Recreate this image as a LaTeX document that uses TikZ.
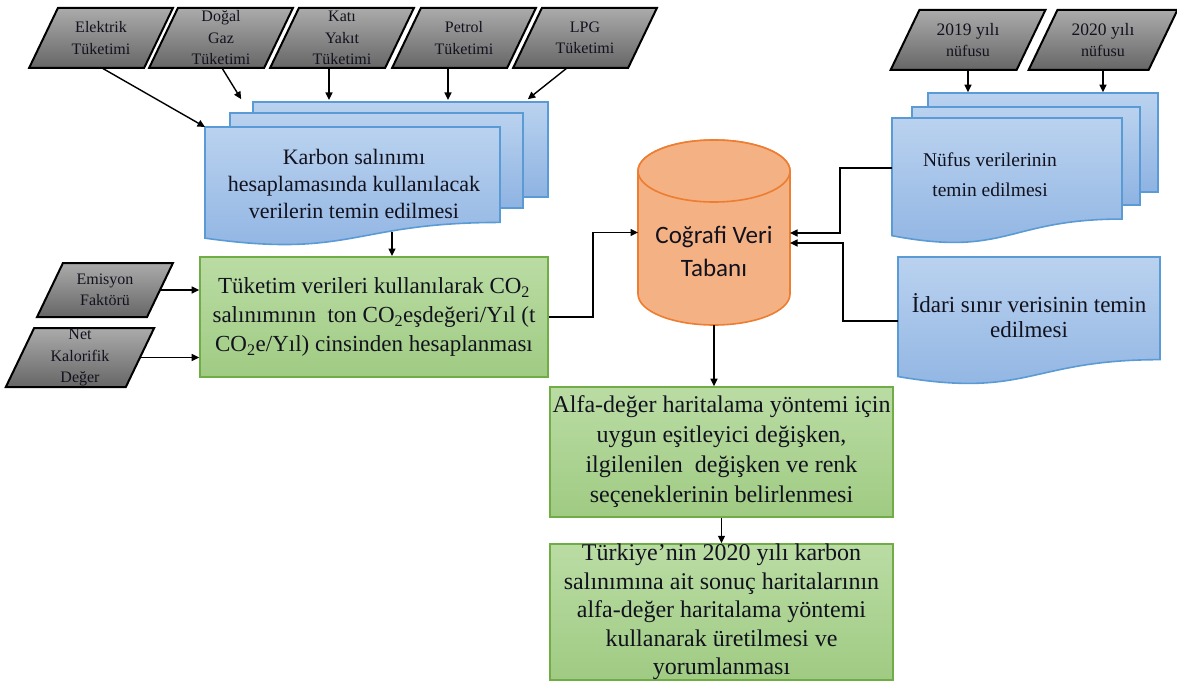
\documentclass[tikz,border=0pt]{standalone}
\usepackage{fontspec}
\setmainfont{Liberation Serif}
\newfontfamily\calib{Carlito}
\usetikzlibrary{arrows.meta,calc}
\definecolor{bluefillA}{HTML}{BAD2EF}
\definecolor{bluefillB}{HTML}{8EB3E2}
\definecolor{blueline}{HTML}{5B9BD5}
\definecolor{greenA}{HTML}{BADCA4}
\definecolor{greenB}{HTML}{A0CB83}
\definecolor{greenline}{HTML}{70AD47}
\definecolor{orfill}{HTML}{F4B183}
\definecolor{orline}{HTML}{ED7D31}
\definecolor{grayA}{HTML}{ABABAB}
\definecolor{grayB}{HTML}{666666}
\definecolor{txt}{HTML}{12121E}
\newcommand\gpara[6]{% name, cx, cy, half width, half height, text
  \path[pshape] ({#2-#4+0.48*#5},{#3-#5}) -- ({#2+#4+0.48*#5},{#3-#5}) -- ({#2+#4-0.48*#5},{#3+#5}) -- ({#2-#4-0.48*#5},{#3+#5}) -- cycle;
  \node[ghost, minimum width={2*#4}, minimum height={2*#5}] (#1) at (#2,#3) {};
  \node[ptext] (#1t) at (#2,#3) {#6};}
\newcommand\docshape[5]{% style, x1, y1, x2, h
  \path[#1] (#2,#3) -- (#4,#3) -- (#4,{#3+0.802*#5}) .. controls ({(#2+#4)/2},{#3+0.802*#5}) and ({(#2+#4)/2},{#3+1.108*#5}) .. (#2,{#3+0.934*#5}) -- cycle;}
\begin{document}
\begin{tikzpicture}[x=1pt,y=-1pt,
  arr/.style={-{Triangle[length=7.5pt,width=7pt]}, line width=1.4pt, black},
  pshape/.style={draw=black, line width=2pt, top color=grayA, bottom color=grayB},
  ghost/.style={inner sep=0, outer sep=0, draw=none},
  ptext/.style={inner sep=0, align=center, text=txt, font=\fontsize{16}{21.5}\selectfont},
  bluedoc/.style={draw=blueline, line width=1.6pt, top color=bluefillA, bottom color=bluefillB},
  doctext/.style={ghost, align=center, text=txt},
  greenbox/.style={draw=greenline, line width=1.6pt, top color=greenA, bottom color=greenB, align=center, text=txt, inner sep=0},
  cyl/.style={draw=orline, line width=1.6pt, fill=orfill},
]
\useasboundingbox (0,0) rectangle (1177,682);

% top input parallelograms
\gpara{elek}{101}{38}{57.5}{30}{Elektrik\\Tüketimi}
\gpara{dogal}{221}{38}{57.5}{30}{Doğal\\Gaz\\Tüketimi}
\gpara{kati}{342}{38}{57.5}{30}{Katı\\Yakıt\\Tüketimi}
\gpara{petrol}{464}{38}{57.5}{30}{Petrol\\Tüketimi}
\gpara{lpg}{585}{38}{57.5}{30}{LPG\\Tüketimi}
\gpara{p19}{968}{40}{63}{30}{\fontsize{17.5}{23.5}\selectfont 2019 yılı\\nüfusu}
\gpara{p20}{1103}{40}{60}{30}{\fontsize{17.5}{23.5}\selectfont 2020 yılı\\nüfusu}
\gpara{emis}{105}{290}{55}{27}{Emisyon\\Faktörü}
\gpara{net}{80}{357.5}{60}{29.5}{\fontsize{16}{20}\selectfont Net\\Kalorifik\\Değer}

% Karbon multi-document
\node[bluedoc, minimum width=295, minimum height=95] (kback) at (400.5,149.5) {};
\node[bluedoc, minimum width=293, minimum height=95] (kmid) at (376.5,160.5) {};
\docshape{bluedoc}{205}{127}{500}{119}
\node[doctext, minimum width=298, minimum height=113, font=\fontsize{22}{27}\selectfont] (kfront) at (354,183.5)
  {Karbon salınımı\\hesaplamasında kullanılacak\\verilerin temin edilmesi};

% Nufus multi-document
\node[bluedoc, minimum width=230, minimum height=99] (nback) at (1043,142.5) {};
\node[bluedoc, minimum width=228, minimum height=98] (nmid) at (1026,156) {};
\docshape{bluedoc}{892}{118}{1122}{126}
\node[doctext, minimum width=196, minimum height=116, font=\fontsize{19.5}{30}\selectfont] (nfront) at (990,175)
  {Nüfus verilerinin\\temin edilmesi};

% Idari document
\docshape{bluedoc}{898}{257}{1160}{128}
\node[doctext, minimum width=262, minimum height=100, font=\fontsize{23}{25}\selectfont] (idari) at (1029,316)
  {İdari sınır verisinin temin\\edilmesi};

% database cylinder
\path[cyl] (638,171) -- (638,294) arc[start angle=180, end angle=0, x radius=76, y radius=31]
  -- (790,171) arc[start angle=0, end angle=-180, x radius=76, y radius=31] -- cycle;
\path[cyl] (714,171) ellipse[x radius=76, y radius=31];
\node[ghost, minimum width=152, minimum height=185] (db) at (714,232.5) {};
\node[inner sep=0, align=center, text=txt, font=\calib\fontsize{25}{33}\selectfont] (dbt) at (714,251) {Coğrafi Veri\\Tabanı};

% green process boxes
\node[greenbox, minimum width=348, minimum height=120, font=\fontsize{23}{29}\selectfont] (tuk) at (374,317)
  {Tüketim verileri kullanılarak CO\textsubscript{2}\\salınımının\ \ ton CO\textsubscript{2}eşdeğeri/Yıl (t\\CO\textsubscript{2}e/Yıl) cinsinden hesaplanması};
\node[greenbox, minimum width=343, minimum height=130, font=\fontsize{24}{30}\selectfont] (alfa) at (721.5,452)
  {Alfa-değer haritalama yöntemi için\\uygun eşitleyici değişken,\\ilgilenilen\ \ değişken ve renk\\seçeneklerinin belirlenmesi};
\node[greenbox, minimum width=343, minimum height=134, font=\fontsize{24}{28.5}\selectfont] (turk) at (721.5,612)
  {Türkiye’nin 2020 yılı karbon\\salınımına ait sonuç haritalarının\\alfa-değer haritalama yöntemi\\kullanarak üretilmesi ve\\yorumlanması};

% connectors
\draw[arr] ($(elek.south)+(1,0)$) -- (kfront.north west);
\draw[arr] ($(dogal.south)+(1,0)$) -- ($(kback.north west)+(-11,-2)$);
\draw[arr] ($(kati.south)+(-13,0)$) -- ++(0,32);
\draw[arr] ($(petrol.south)+(-16,0)$) -- ++(0,32);
\draw[arr] ($(lpg.south)+(-18,0)$) -- ($(kback.north east)+(-21,-2)$);
\draw[arr] (p19.south) -- (p19.south |- nback.north);
\draw[arr] (p20.south) -- (p20.south |- nback.north);
\draw[arr] ($(kfront.south)+(38,-8)$) -- ++(0,24);
\draw[arr] (emis.east) -- (emis.east -| tuk.west);
\draw[arr] (net.east) -- (net.east -| tuk.west);
\draw[arr] (tuk.east) -- ++(44,0) |- (db.west);
\draw[arr] ($(nfront.west)+(0,-7)$) -- ++(-52,0) |- ($(db.east)+(0,0.5)$);
\draw[arr] ($(idari.west)+(0,5)$) -- ++(-55,0) |- ($(db.east)+(0,10.5)$);
\draw[arr] (db.south) -- (db.south |- alfa.north);
\draw[arr] (alfa.south) -- (turk.north);
\end{tikzpicture}
\end{document}
